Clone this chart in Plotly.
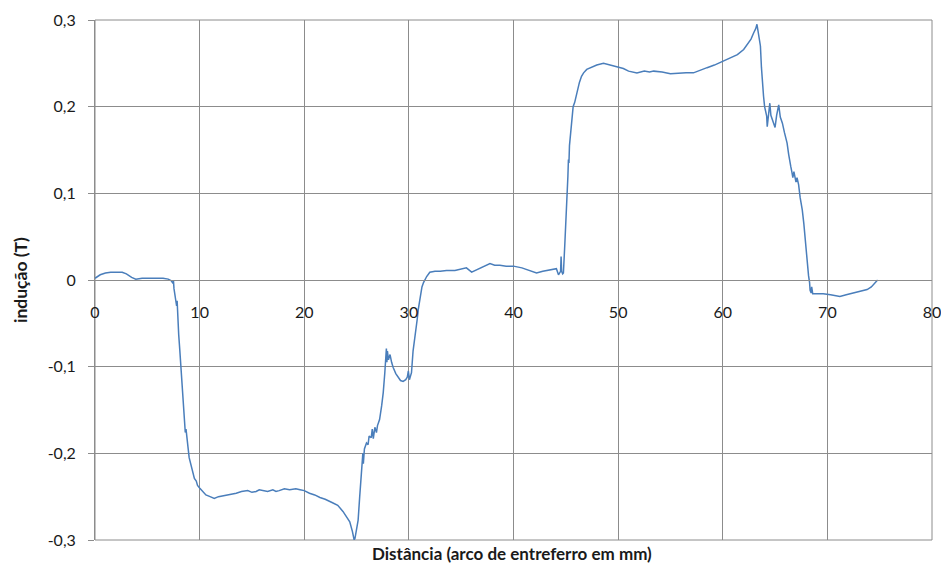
import plotly.graph_objects as go

dist = [
    0.0, 0.5, 1.0, 1.5, 2.0, 2.6, 3.0, 3.5, 3.9, 4.5, 5.5, 6.5, 7.0, 7.3, 7.45, 7.5, 7.55, 7.6, 7.7, 7.8,
    7.85, 7.9, 8.0, 8.1, 8.2, 8.25, 8.35, 8.4, 8.47, 8.5, 8.55, 8.63, 8.7, 8.8, 8.88, 9.0, 9.1, 9.2, 9.3, 9.4,
    9.5, 9.68, 9.8, 10.0, 10.3, 10.6, 11.0, 11.4, 11.8, 12.3, 12.9, 13.5, 14.0, 14.6, 15.0, 15.4, 15.7, 16.0,
    16.5, 17.0, 17.3, 17.6, 18.1, 18.6, 19.2, 19.6, 20.0, 20.5, 21.0, 21.5, 22.0, 22.7, 23.2, 23.7, 24.0,
    24.35, 24.6, 24.77, 24.85, 25.0, 25.15, 25.3, 25.4, 25.47, 25.55, 25.6, 25.65, 25.75, 25.95, 26.1, 26.2,
    26.4, 26.5, 26.6, 26.75, 26.9, 27.0, 27.2, 27.4, 27.55, 27.7, 27.8, 27.85, 27.9, 27.95, 28.05, 28.2,
    28.35, 28.5, 28.75, 29.0, 29.2, 29.45, 29.7, 29.85, 29.95, 30.05, 30.15, 30.25, 30.4, 30.55, 30.67,
    30.8, 30.9, 31.0, 31.1, 31.25, 31.4, 31.7, 32.0, 32.5, 33.0, 33.6, 34.4, 35.0, 35.5, 36.0, 36.5, 37.2,
    37.75, 38.2, 38.7, 39.3, 40.0, 40.8, 41.5, 42.2, 42.8, 43.3, 43.65, 44.1, 44.3, 44.5, 44.55, 44.6, 44.7,
    44.77, 44.9, 45.0, 45.1, 45.2, 45.25, 45.3, 45.35, 45.5, 45.6, 45.7, 45.85, 46.05, 46.3, 46.5, 46.7,
    47.0, 47.5, 47.96, 48.6, 49.2, 49.7, 50.0, 50.5, 51.0, 51.4, 51.8, 52.5, 53.0, 53.4, 54.2, 55.0, 55.8,
    56.5, 57.2, 57.8, 58.5, 59.2, 59.9, 60.7, 61.4, 62.0, 62.3, 62.7, 62.95, 63.15, 63.27, 63.4, 63.5,
    63.6, 63.7, 63.75, 63.85, 63.9, 64.0, 64.1, 64.2, 64.25, 64.35, 64.5, 64.6, 64.75, 64.9, 65.0, 65.15,
    65.35, 65.5, 65.7, 65.9, 66.15, 66.3, 66.4, 66.5, 66.6, 66.7, 66.8, 66.9, 67.0, 67.1, 67.25, 67.4,
    67.6, 67.75, 67.85, 68.05, 68.2, 68.3, 68.35, 68.45, 68.5, 68.6, 69.0, 69.6, 70.3, 70.8, 71.2, 71.8,
    72.5, 73.2, 73.8, 74.2, 74.5, 74.8,
]
inducao = [
    0.002, 0.006, 0.008, 0.009, 0.009, 0.009, 0.007, 0.003, 0.001, 0.002, 0.002, 0.002, 0.001, -0.001, -0.004,
    -0.001, -0.010, -0.015, -0.018, -0.030, -0.024, -0.042, -0.063, -0.080, -0.098, -0.103, -0.125, -0.140,
    -0.150, -0.145, -0.165, -0.176, -0.172, -0.190, -0.192, -0.205, -0.210, -0.215, -0.222, -0.226, -0.229,
    -0.232, -0.237, -0.240, -0.244, -0.248, -0.250, -0.252, -0.250, -0.249, -0.247, -0.246, -0.244, -0.243,
    -0.245, -0.244, -0.242, -0.243, -0.244, -0.242, -0.244, -0.243, -0.241, -0.242, -0.241, -0.242, -0.243,
    -0.246, -0.248, -0.251, -0.253, -0.257, -0.260, -0.267, -0.272, -0.279, -0.290, -0.300, -0.298, -0.285,
    -0.277, -0.250, -0.236, -0.222, -0.215, -0.200, -0.212, -0.195, -0.188, -0.190, -0.180, -0.182, -0.172,
    -0.183, -0.170, -0.176, -0.168, -0.161, -0.145, -0.130, -0.107, -0.085, -0.079, -0.095, -0.082, -0.092,
    -0.086, -0.095, -0.101, -0.108, -0.113, -0.116, -0.117, -0.115, -0.112, -0.105, -0.115, -0.110, -0.107,
    -0.082, -0.070, -0.061, -0.045, -0.034, -0.025, -0.015, -0.008, -0.003, 0.004, 0.009, 0.010, 0.010,
    0.011, 0.011, 0.013, 0.014, 0.009, 0.012, 0.016, 0.019, 0.017, 0.017, 0.016, 0.016, 0.014, 0.011, 0.008,
    0.010, 0.011, 0.012, 0.013, 0.006, 0.010, 0.027, 0.010, 0.007, 0.008, 0.040, 0.062, 0.090, 0.120, 0.139,
    0.135, 0.155, 0.177, 0.190, 0.200, 0.205, 0.216, 0.228, 0.235, 0.239, 0.243, 0.246, 0.248, 0.250, 0.248,
    0.246, 0.245, 0.244, 0.241, 0.240, 0.239, 0.241, 0.240, 0.241, 0.240, 0.238, 0.239, 0.239, 0.239, 0.242,
    0.245, 0.248, 0.252, 0.256, 0.260, 0.266, 0.271, 0.278, 0.285, 0.290, 0.295, 0.285, 0.275, 0.270, 0.245,
    0.235, 0.220, 0.212, 0.200, 0.192, 0.189, 0.177, 0.190, 0.204, 0.190, 0.185, 0.181, 0.176, 0.190, 0.202,
    0.188, 0.181, 0.170, 0.158, 0.145, 0.135, 0.131, 0.125, 0.118, 0.125, 0.118, 0.113, 0.118, 0.110, 0.095,
    0.081, 0.065, 0.050, 0.023, 0.005, -0.003, -0.012, -0.015, -0.008, -0.016, -0.016, -0.016, -0.017,
    -0.018, -0.019, -0.017, -0.015, -0.013, -0.011, -0.008, -0.004, 0.000,
]

x_ticks = [0, 10, 20, 30, 40, 50, 60, 70, 80]
y_ticks = [-0.3, -0.2, -0.1, 0, 0.1, 0.2, 0.3]
y_labels = ["-0,3", "-0,2", "-0,1", "0", "0,1", "0,2", "0,3"]

GRID = "#8c8c8c"
FONT = "Lato"
TXT = "#1a1a1a"

fig = go.Figure()
fig.add_trace(go.Scatter(
    x=dist, y=inducao, mode="lines",
    line=dict(color="#4a7ebb", width=1.5),
    showlegend=False, hoverinfo="skip",
))

fig.update_layout(
    width=941, height=565,
    autosize=False,
    margin=dict(l=95, r=9, t=20, b=25, autoexpand=False),
    paper_bgcolor="white", plot_bgcolor="white",
    font=dict(family=FONT, size=16, color=TXT),
    showlegend=False,
    xaxis=dict(
        range=[0, 80], tickvals=x_ticks, ticktext=[str(v) for v in x_ticks],
        showgrid=True, gridcolor=GRID, gridwidth=1, zeroline=False,
        showline=True, linecolor=GRID, linewidth=1,
        anchor="free", position=0.5, automargin=False,
        ticks="outside", ticklen=0, tickcolor="rgba(0,0,0,0)",
        ticklabelstandoff=18, ticklabeloverflow="allow",
        tickfont=dict(family=FONT, size=16, color=TXT),
        fixedrange=True,
    ),
    yaxis=dict(
        range=[-0.3, 0.3], tickvals=y_ticks, ticktext=y_labels,
        showgrid=True, gridcolor=GRID, gridwidth=1, zeroline=False,
        showline=True, linecolor=GRID, linewidth=1, automargin=False,
        ticks="outside", ticklen=6, tickcolor=GRID,
        ticklabelstandoff=9, ticklabeloverflow="allow",
        tickfont=dict(family=FONT, size=16, color=TXT),
        fixedrange=True,
    ),
    shapes=[dict(type="rect", xref="x domain", yref="y domain", x0=0, x1=1, y0=0, y1=1,
                 line=dict(color=GRID, width=1), fillcolor="rgba(0,0,0,0)", layer="below")],
    annotations=[
        dict(text="<b>Distância (arco de entreferro em mm)</b>", xref="x", yref="y domain",
             x=39.9, y=0, xanchor="center", yanchor="middle", yshift=-13, showarrow=False,
             borderpad=0, font=dict(family=FONT, size=17, color=TXT)),
        dict(text="<b>indução (T)</b>", xref="x domain", yref="y",
             x=0, y=0, xanchor="center", yanchor="middle", xshift=-75, textangle=-90,
             showarrow=False, font=dict(family=FONT, size=17.5, color=TXT)),
    ],
)

fig.write_html("out.html", config={"displayModeBar": False},
               post_script="document.body.style.margin='0';")
